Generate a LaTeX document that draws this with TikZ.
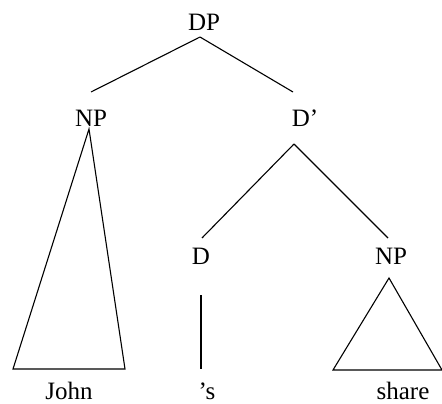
\documentclass[tikz,border=0pt]{standalone}
\usepackage{fontspec}
\setmainfont{Liberation Serif}
\begin{document}
\begin{tikzpicture}[x=1pt,y=-1pt,
  lab/.style={anchor=base,inner sep=0pt,font=\fontsize{25}{30}\selectfont},
  edge/.style={line width=1.1pt}]
\useasboundingbox[fill=white] (0,0) rectangle (442,404);
% labels
\node[lab] (DP) at (204,31) {DP};
\node[lab] (NPa) at (91,126) {NP};
\node[lab] (Dbar) at (305,126) {D’};
\node[lab] (D) at (201,264) {D};
\node[lab] (NPb) at (391,264) {NP};
\node[lab] (John) at (69,399) {John};
\node[lab] (s) at (207,399) {’s};
\node[lab] (share) at (403,399) {share};
% edge end points
\coordinate (DPs) at (200,37);
\coordinate (NPan) at (91,92);
\coordinate (Dbarn) at (293,92);
\coordinate (NPas) at (89,129);
\coordinate (JohnL) at (13,369);
\coordinate (JohnR) at (125,369);
\coordinate (Dbars) at (294,144);
\coordinate (Dn) at (202,238);
\coordinate (NPbn) at (388,238);
\coordinate (Ds) at (201,295);
\coordinate (sn) at (201,369);
\coordinate (NPbs) at (389,278);
\coordinate (shareL) at (333,370);
\coordinate (shareR) at (442,370);
% edges
\draw[edge] (DPs) -- (NPan);
\draw[edge] (DPs) -- (Dbarn);
\draw[edge] (NPas) -- (JohnL) -- (JohnR) -- cycle;
\draw[edge] (Dbars) -- (Dn);
\draw[edge] (Dbars) -- (NPbn);
\draw[edge] (Ds) -- (sn);
\draw[edge] (NPbs) -- (shareL) -- (shareR) -- cycle;
\end{tikzpicture}
\end{document}
